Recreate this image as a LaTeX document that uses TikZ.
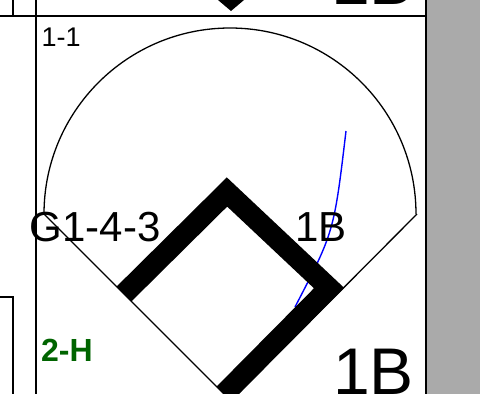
\documentclass[tikz,border=0pt]{standalone}
\usepackage{fontspec}
\setmainfont{Liberation Sans}
\definecolor{hitgreen}{RGB}{0,100,0}
\definecolor{margingray}{RGB}{170,170,170}

\begin{document}
\begin{tikzpicture}[x=1pt, y=-1pt,
    rule/.style={line width=1.8pt},
    field/.style={line width=1.3pt},
    runner/.style={line width=21pt, line join=miter},
    hitline/.style={blue, line width=1.4pt},
    scoretext/.style={inner sep=0pt, anchor=base west}]
  \clip (0,0) rectangle (480,394);
  \fill[margingray] (427,0) rectangle (480,394);
  % borders of the cells
  \foreach \x in {36,426} {
    \draw[rule] (\x,0) -- (\x,394);
  }
  \draw[rule] (0,16) -- (426,16);
  \draw[rule] (13,0) -- (13,16);
  \draw[rule] (0,297) -- (13,297) -- (13,394);
  % cell above
  \fill (218,0) -- (244,0) -- (231,11) -- cycle;
  \node[scoretext, font=\fontsize{66}{66}\selectfont] (prevbase) at (333,4) {2B};
  % field
  \coordinate (plate) at (231,401);
  \coordinate (leftend) at (44,214);
  \coordinate (rightend) at (417,214);
  \draw[field] (leftend) arc[start angle=180, end angle=360, radius=186];
  \draw[field] (leftend) -- (plate) -- (rightend);
  % hit to right field
  \coordinate (hitstart) at (346,131);
  \coordinate (hitend) at (295,307);
  \draw[hitline] (hitstart) .. controls (334,232) .. (hitend);
  % bases reached
  \coordinate (home) at (224,394);
  \coordinate (first) at (329,288);
  \coordinate (second) at (227,192);
  \coordinate (third) at (124,294);
  \draw[runner] (home) -- (first) -- (second) -- (third);
  % labels
  \node[scoretext, font=\fontsize{27}{27}\selectfont] (count) at (41.5,46.5) {1-1};
  \node[scoretext, font=\fontsize{42}{42}\selectfont] (play) at (29.7,241.5) {G1-4-3};
  \node[scoretext, font=\fontsize{42}{42}\selectfont] (hit) at (295.4,241.5) {1B};
  \node[scoretext, font=\fontsize{32}{32}\selectfont\bfseries, text=hitgreen] (rbi) at (41,361) {2-H};
  \node[scoretext, font=\fontsize{66}{66}\selectfont] (reached) at (333,394) {1B};
\end{tikzpicture}
\end{document}
